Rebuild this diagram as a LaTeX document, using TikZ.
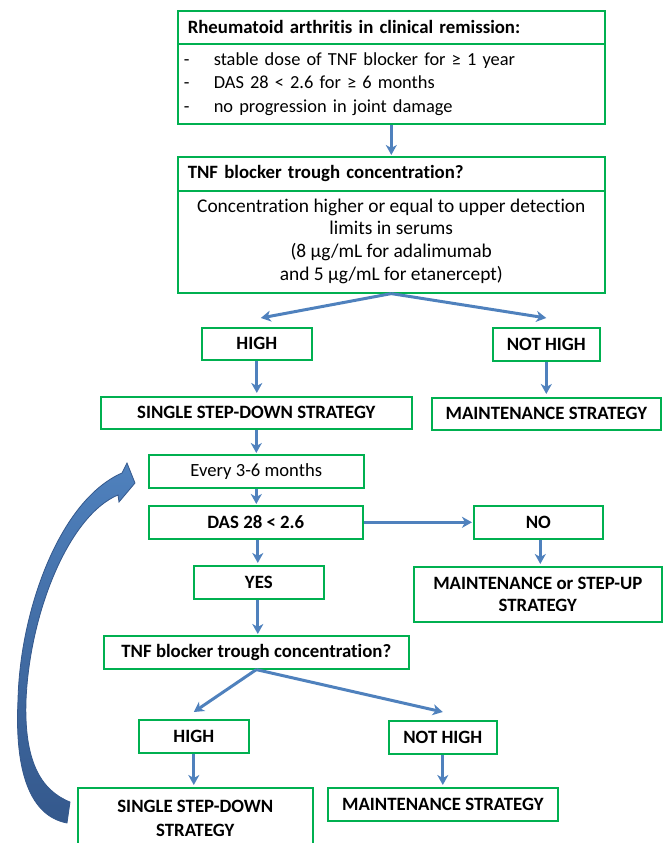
\documentclass[tikz,border=0pt]{standalone}
\usepackage{fontspec}
\setmainfont{Carlito}[Ligatures=NoCommon]
\usepackage{tikz}
\usetikzlibrary{arrows.meta}
\definecolor{boxgreen}{RGB}{0,176,80}
\definecolor{flowblue}{RGB}{79,129,189}
\definecolor{loopdark}{RGB}{52,88,140}

\begin{document}
\begin{tikzpicture}[x=1pt, y=-1pt,
  box/.style={draw=boxgreen, line width=1.6pt, anchor=north west, inner sep=0pt,
    align=center, font=\fontsize{18.8}{23}\selectfont\bfseries},
  flow/.style={draw=flowblue, line width=3pt, -{Stealth[length=10pt,width=11pt,inset=3pt]}}]
\useasboundingbox (0,0) rectangle (667,843);
\clip (0,0) rectangle (667,843);

\node[box, minimum width=427pt, minimum height=33pt, text width=407pt, align=left] (hdrA) at (177,10)
  {Rheumatoid arthritis in clinical remission:};
\node[box, minimum width=427pt, minimum height=80pt, text width=415pt, align=left, font=\fontsize{18.4}{23.5}\selectfont] (bodyA) at (177,43)
  {\makebox[30pt][l]{-}stable dose of TNF blocker for ≥ 1 year\\
   \makebox[30pt][l]{-}DAS 28 < 2.6 for ≥ 6 months\\
   \makebox[30pt][l]{-}no progression in joint damage};

\node[box, minimum width=427pt, minimum height=34pt, text width=407pt, align=left] (hdrB) at (177,156)
  {TNF blocker trough concentration?};
\node[box, minimum width=427pt, minimum height=102pt, align=none, font=\fontsize{19.4}{22.7}\selectfont] (bodyB) at (177,190)
  {\begin{tabular}{@{}c@{}}
   Concentration higher or equal to upper detection\\
   limits in serums\\
   (8 µg/mL for adalimumab\\
   and 5 µg/mL for etanercept)
   \end{tabular}};

\node[box, minimum width=110pt, minimum height=32pt] (highA) at (201,327) {HIGH};
\node[box, minimum width=107pt, minimum height=33pt] (nothighA) at (492,327) {NOT HIGH};
\node[box, minimum width=311pt, minimum height=32pt] (singleA) at (100,396) {SINGLE STEP-DOWN STRATEGY};
\node[box, minimum width=229pt, minimum height=32pt] (maintA) at (431,397) {MAINTENANCE STRATEGY};

\node[box, minimum width=215pt, minimum height=33pt, font=\fontsize{18.6}{23}\selectfont] (every) at (148,454) {Every 3-6 months};
\node[box, minimum width=214pt, minimum height=33pt] (das) at (148,505) {DAS 28 < 2.6};
\node[box, minimum width=129pt, minimum height=33pt] (no) at (473,505) {NO};
\node[box, minimum width=130pt, minimum height=33pt] (yes) at (193,565) {YES};
\node[box, minimum width=248pt, minimum height=55pt, font=\fontsize{18.8}{22}\selectfont\bfseries] (stepup) at (413,566)
  {MAINTENANCE or STEP-UP\\STRATEGY};

\node[box, minimum width=305pt, minimum height=33pt] (tnfB) at (103,635) {TNF blocker trough concentration?};
\node[box, minimum width=110pt, minimum height=33pt] (highB) at (138,719) {HIGH};
\node[box, minimum width=108pt, minimum height=33pt] (nothighB) at (388,720) {NOT HIGH};
\node[box, minimum width=235pt, minimum height=62pt, font=\fontsize{18.8}{24}\selectfont\bfseries] (singleB) at (77,787)
  {SINGLE STEP-DOWN\\STRATEGY};
\node[box, minimum width=230pt, minimum height=33pt] (maintB) at (327,787) {MAINTENANCE STRATEGY};

\draw[flow, shorten >=1pt] (bodyA.south) -- (hdrB.north);
\draw[flow] (bodyB.south) -- ([xshift=4pt,yshift=9pt]highA.north);
\draw[flow] (bodyB.south) -- ([yshift=9pt]nothighA.north);
\draw[flow, shorten >=3pt] (highA.south) -- (highA.south |- singleA.north);
\draw[flow, shorten >=3pt] (nothighA.south) -- (nothighA.south |- maintA.north);
\draw[flow, shorten >=1pt] (singleA.south) -- (singleA.south |- every.north);
\draw[flow, shorten >=1pt] (every.south) -- (every.south |- das.north);
\draw[flow, shorten >=1pt] (das.east) -- (no.west);
\draw[flow, shorten >=2pt] ([xshift=2pt]das.south) -- ([xshift=2pt]das.south |- yes.north);
\draw[flow, shorten >=2pt] ([xshift=2pt]no.south) -- ([xshift=2pt]no.south |- stepup.north);
\draw[flow, shorten >=1pt] ([xshift=2pt]das.south |- yes.south) -- ([xshift=2pt]das.south |- tnfB.north);
\draw[flow] (tnfB.south) -- ([yshift=7pt]highB.north);
\draw[flow] (tnfB.south) -- ([yshift=8pt]nothighB.north);
\draw[flow, shorten >=2pt] (highB.south) -- (highB.south |- singleB.north);
\draw[flow, shorten >=2pt] (nothighB.south) -- (nothighB.south |- maintB.north);

\draw[draw=loopdark, line width=0.8pt, top color=flowblue, bottom color=loopdark]
  (67,823) .. controls (25,815) and (15,760) .. (18,700)
  .. controls (20,610) and (60,500) .. (122,473)
  -- (127,463) -- (135,483) -- (119,502) -- (118,495)
  .. controls (70,515) and (30,610) .. (26,700)
  .. controls (24,760) and (40,790) .. (70,802) -- cycle;

\end{tikzpicture}
\end{document}
